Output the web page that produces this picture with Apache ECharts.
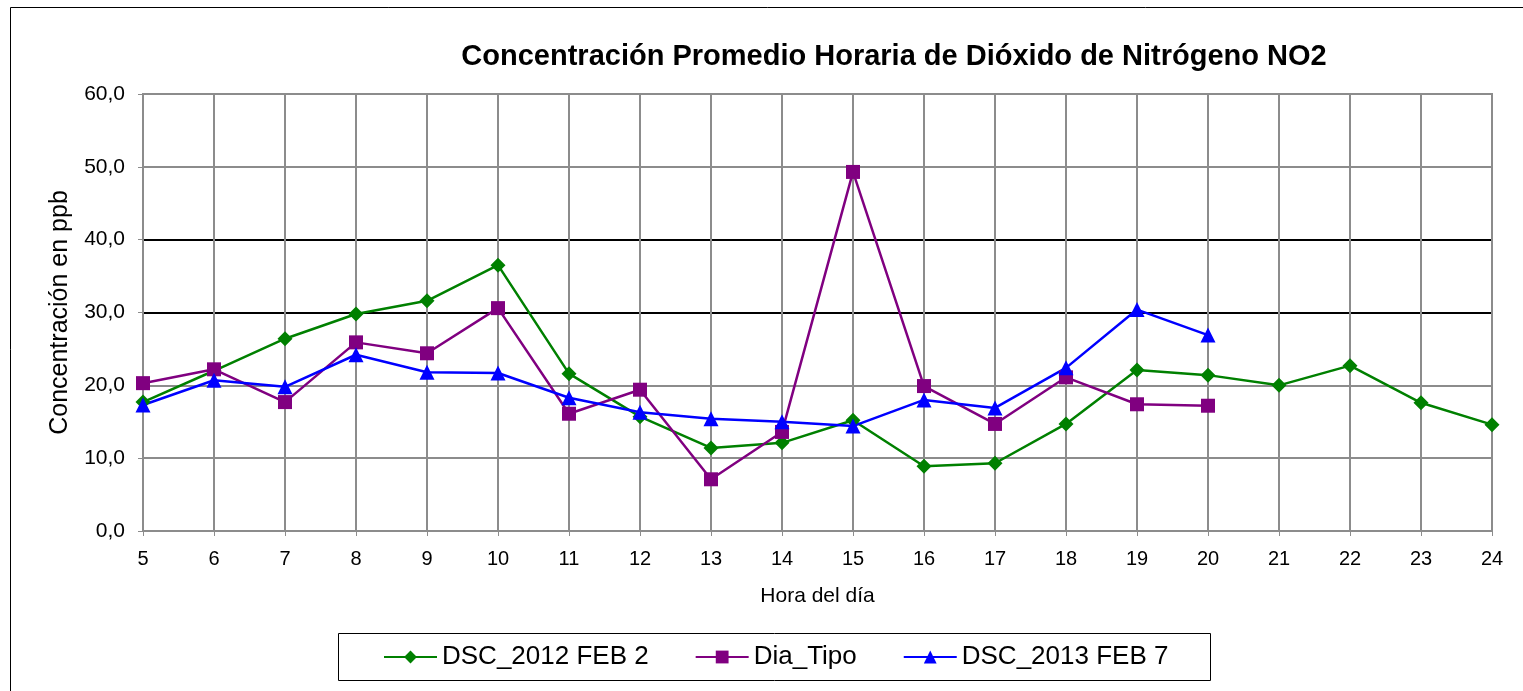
<!DOCTYPE html>
<html>
<head>
<meta charset="utf-8">
<script src="https://cdn.jsdelivr.net/npm/echarts@6/dist/echarts.min.js"></script>
<style>
  html, body { margin: 0; padding: 0; background: #fff; }
  #chart { width: 1523px; height: 691px; }
</style>
</head>
<body>
<div id="chart"></div>
<script>
// hours of the day
const horas = ['5','6','7','8','9','10','11','12','13','14','15','16','17','18','19','20','21','22','23','24'];
// series values (ppb)
const dsc2012 = [17.7, 22.0, 26.4, 29.8, 31.6, 36.5, 21.6, 15.7, 11.4, 12.1, 15.2, 8.9, 9.3, 14.7, 22.1, 21.4, 20.0, 22.7, 17.6, 14.6];
const diaTipo = [20.3, 22.2, 17.7, 25.9, 24.4, 30.6, 16.1, 19.4, 7.1, 13.6, 49.3, 19.9, 14.7, 21.1, 17.4, 17.2];
const dsc2013 = [17.3, 20.7, 19.8, 24.2, 21.8, 21.7, 18.3, 16.3, 15.4, 15.0, 14.4, 18.0, 16.9, 22.4, 30.4, 26.9];
const yTicks = [0, 10, 20, 30, 40, 50, 60];

const font = 'Liberation Sans, Arial, sans-serif';
const gray = '#8c8c8c';

const chart = echarts.init(document.getElementById('chart'));

function serie(name, data, color, symbol, size) {
    return {
        name: name,
        type: 'line',
        data: data,
        symbol: symbol,
        symbolSize: size,
        showSymbol: true,
        lineStyle: {color: color, width: 2.5},
        itemStyle: {color: color},
        animation: false
    };
}

chart.setOption({
    backgroundColor: '#fff',
    title: {
        text: 'Concentración Promedio Horaria de Dióxido de Nitrógeno NO2',
        left: 889,
        top: 37,
        textAlign: 'center',
        textStyle: {fontFamily: font, fontSize: 29, fontWeight: 'bold', color: '#000'}
    },
    graphic: [{
        type: 'rect',
        shape: {x: 10.5, y: 7.5, width: 1520, height: 700},
        style: {fill: 'none', stroke: '#000', lineWidth: 1},
        silent: true,
        z: -1
    }, {
        type: 'rect',
        shape: {x: 338.5, y: 633.5, width: 872, height: 47},
        style: {fill: '#fff', stroke: '#000', lineWidth: 1},
        silent: true,
        z: 0
    }],
    legend: {
        left: 383,
        top: 644,
        padding: 0,
        itemGap: 46,
        itemWidth: 53,
        itemHeight: 16,
        textStyle: {fontFamily: font, fontSize: 26, color: '#000'},
        data: ['DSC_2012 FEB 2', 'Dia_Tipo', 'DSC_2013 FEB 7'],
        z: 5
    },
    grid: {
        left: 143, right: 31, top: 94, bottom: 160,
        show: true,
        borderColor: gray,
        borderWidth: 2
    },
    xAxis: {
        type: 'category',
        data: horas,
        boundaryGap: false,
        name: 'Hora del día',
        nameLocation: 'middle',
        nameGap: 55,
        nameTextStyle: {fontFamily: font, fontSize: 21, color: '#000'},
        axisLine: {lineStyle: {color: gray, width: 2}},
        axisTick: {show: true, length: 5, lineStyle: {color: gray}},
        axisLabel: {fontFamily: font, fontSize: 20, color: '#000', margin: 18},
        splitLine: {show: true, lineStyle: {color: gray, width: 2}}
    },
    yAxis: {
        type: 'value',
        min: yTicks[0],
        max: yTicks[yTicks.length - 1],
        interval: 10,
        name: 'Concentración en ppb',
        nameLocation: 'middle',
        nameGap: 70,
        nameTextStyle: {fontFamily: font, fontSize: 25, color: '#000'},
        axisLine: {show: true, lineStyle: {color: gray, width: 2}},
        axisTick: {show: true, length: 5, lineStyle: {color: gray}},
        axisLabel: {
            fontFamily: font, fontSize: 21, color: '#000', margin: 18,
            formatter: v => v.toFixed(1).replace('.', ',')
        },
        splitLine: {
            show: true,
            lineStyle: {color: [gray, gray, gray, '#000', '#000', gray, gray], width: 2}
        }
    },
    series: [
        serie('DSC_2012 FEB 2', dsc2012, '#008000', 'diamond', 15),
        serie('Dia_Tipo', diaTipo, '#800080', 'rect', 14),
        serie('DSC_2013 FEB 7', dsc2013, '#0000ff', 'triangle', 15)
    ]
});
</script>
</body>
</html>
